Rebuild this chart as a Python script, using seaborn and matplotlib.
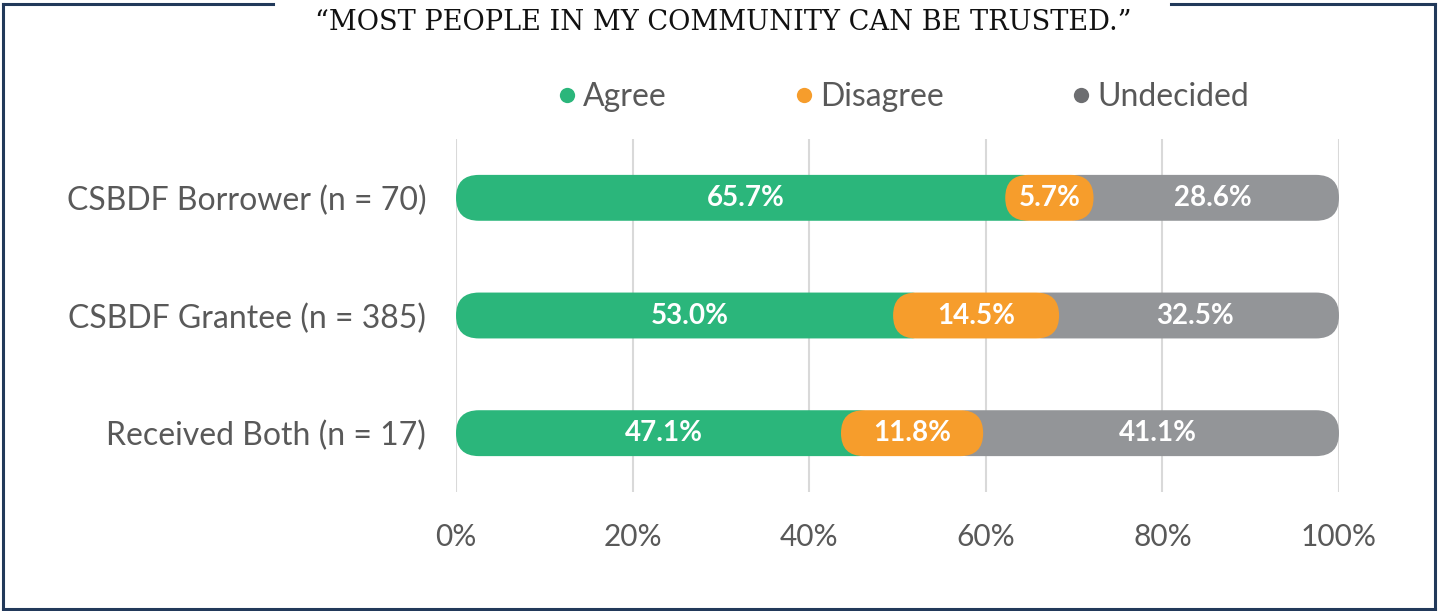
import numpy as np
import pandas as pd
import seaborn as sns
import matplotlib
matplotlib.use("Agg")
import matplotlib.pyplot as plt
from matplotlib.patches import FancyBboxPatch
from matplotlib.lines import Line2D

# ---------------- data ----------------
categories = ["CSBDF Borrower (n = 70)", "CSBDF Grantee (n = 385)", "Received Both (n = 17)"]
series = ["Agree", "Disagree", "Undecided"]
agree = [65.7, 53.0, 47.1]
disagree = [5.7, 14.5, 11.8]
undecided = [28.6, 32.5, 41.1]
x_ticks = [0, 20, 40, 60, 80, 100]
x_ticklabels = ["0%", "20%", "40%", "60%", "80%", "100%"]
title = "\u201cMOST PEOPLE IN MY COMMUNITY CAN BE TRUSTED.\u201d"

# ---------------- style ----------------
bar_colors = {"Agree": "#2BB67B", "Disagree": "#F69D2C", "Undecided": "#939598"}
legend_colors = {"Agree": "#2BB67B", "Disagree": "#F69D2C", "Undecided": "#6D6E71"}
text_color = "#595959"
frame_color = "#22395A"

sns.set_theme(style="white")
plt.rcParams["font.family"] = ["Lato", "DejaVu Sans"]

W, H = 1441, 611
fig = plt.figure(figsize=(W / 100, H / 100), dpi=100)
ax = fig.add_axes([456 / W, 1 - 492 / H, (1339 - 456) / W, (492 - 139) / H])

values = {"Agree": agree, "Disagree": disagree, "Undecided": undecided}
df = pd.DataFrame({"category": np.repeat(categories, 3),
                   "series": series * len(categories),
                   "value": [values[s][i] for i in range(len(categories)) for s in series]})
df["end"] = df.groupby("category", sort=False)["value"].cumsum()
df["start"] = df["end"] - df["value"]

bar_h = 0.39
patches_by_series = {}
for s in series:
    sub = df[df["series"] == s]
    before = len(ax.patches)
    sns.barplot(data=sub, x="end", y="category", order=categories, color=bar_colors[s],
                width=bar_h, orient="h", ax=ax, saturation=1)
    patches_by_series[s] = list(ax.patches[before:])

ax.set_xlim(0, 100)
ax.set_ylim(len(categories) - 0.5, -0.5)

# aspect for round caps
fig.canvas.draw()
p0 = ax.transData.transform((0, 0))
p1 = ax.transData.transform((1, 1))
px_x = abs(p1[0] - p0[0])
px_y = abs(p1[1] - p0[1])
aspect = px_x / px_y

pad_left = {"Agree": 0.0, "Disagree": 3.5, "Undecided": 3.5}
pad_right = {"Agree": 1.0, "Disagree": 0.8, "Undecided": 0.0}
zorders = {"Agree": 2, "Disagree": 4, "Undecided": 3}

for s in series:
    sub = df[df["series"] == s].set_index("category")
    for p in patches_by_series[s]:
        y0, h = p.get_y(), p.get_height()
        yc = y0 + h / 2
        cat = categories[int(round(yc))]
        start = sub.loc[cat, "start"]
        end = sub.loc[cat, "end"]
        x0 = start - pad_left[s]
        x1 = end + pad_right[s]
        p.remove()
        r = (h / 2) / aspect
        fb = FancyBboxPatch((x0, y0), x1 - x0, h,
                            boxstyle=f"round,pad=0,rounding_size={r}",
                            mutation_aspect=aspect, facecolor=bar_colors[s],
                            edgecolor="none", zorder=zorders[s])
        ax.add_patch(fb)
        if s == "Disagree":
            cx = (x0 + x1) / 2
        else:
            cx = (start + end) / 2
        val = sub.loc[cat, "value"]
        ax.text(cx, yc, f"{val:.1f}%", ha="center", va="center", color="white",
                fontsize=20, fontweight="bold", zorder=6)

# axes styling
for sp in ax.spines.values():
    sp.set_visible(False)
ax.set_xticks(x_ticks)
ax.set_xticklabels(x_ticklabels)
ax.xaxis.grid(True, color="#D9D9D9", lw=1.5)
ax.yaxis.grid(False)
ax.set_axisbelow(True)
ax.tick_params(axis="x", length=0, pad=22, labelsize=21.5, labelcolor=text_color)
ax.tick_params(axis="y", length=0, pad=21.5, labelsize=23, labelcolor=text_color)
ax.set_xlabel("")
ax.set_ylabel("")
ax.set_facecolor("none")

# legend
handles = [Line2D([], [], marker="o", linestyle="", markersize=11,
                  markerfacecolor=legend_colors[s], markeredgecolor="none") for s in series]
leg = fig.legend(handles, series, loc="center", bbox_to_anchor=(903 / W, 1 - 97 / H),
                 ncol=3, frameon=False, fontsize=23, handlelength=0.6, handletextpad=0.2,
                 columnspacing=4.0, labelcolor=text_color)

# title
fig.text(723 / W, 1 - 22 / H, title, ha="center", va="center", fontsize=19.6,
         family="DejaVu Serif", color="#111111")

# frame with gap for the title
fx0, fx1 = 2.5 / W, 1435 / W
fy0, fy1 = 1 - 608.5 / H, 1 - 4 / H
lw = 2.2
for xs, ys in [([fx0, 273 / W], [fy1, fy1]), ([1171 / W, fx1], [fy1, fy1]),
               ([fx0, fx0], [fy0, fy1]), ([fx1, fx1], [fy0, fy1]),
               ([fx0, fx1], [fy0, fy0])]:
    fig.add_artist(Line2D(xs, ys, color=frame_color, lw=lw, transform=fig.transFigure,
                          solid_capstyle="projecting"))

fig.savefig("out.png", dpi=100, facecolor="white")
